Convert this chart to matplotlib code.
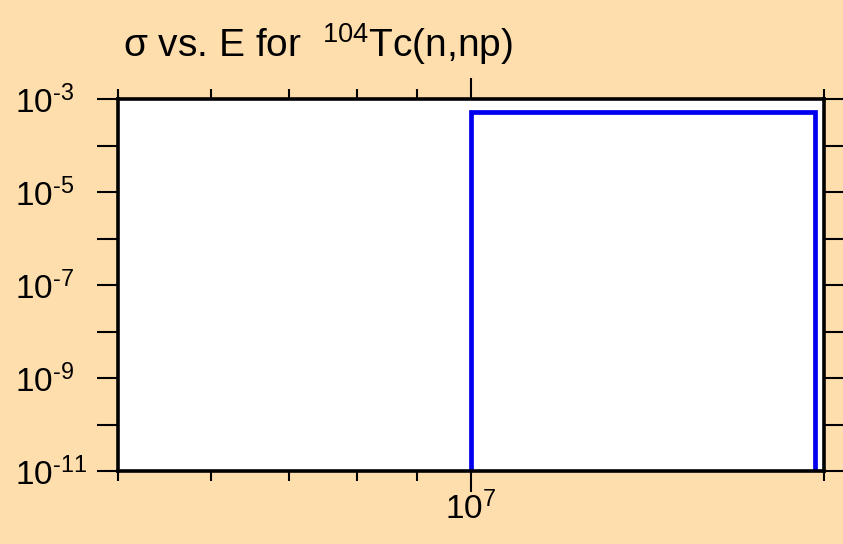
import numpy as np
import matplotlib as mpl
import matplotlib.pyplot as plt

# data: step cross section for 104Tc(n,np)
energy = [1.0e7, 1.0e7, 1.965e7, 1.965e7]
sigma  = [1e-20, 5.3e-4, 5.3e-4, 1e-20]

# ticks
x_major = [1e7]
x_major_labels = ['10$^{7}$']
x_minor = [5e6, 6e6, 7e6, 8e6, 9e6, 2e7]
y_major = [1e-11, 1e-9, 1e-7, 1e-5, 1e-3]
y_major_labels = [r'10$^{\text{-}11}$', r'10$^{\text{-}9}$', r'10$^{\text{-}7}$',
                  r'10$^{\text{-}5}$', r'10$^{\text{-}3}$']
y_minor = [1e-10, 1e-8, 1e-6, 1e-4]

# fonts
mpl.rcParams['font.family'] = ['Liberation Sans', 'DejaVu Sans']
mpl.rcParams['mathtext.fontset'] = 'custom'
mpl.rcParams['mathtext.rm'] = 'Liberation Sans'
mpl.rcParams['mathtext.it'] = 'Liberation Sans:italic'
mpl.rcParams['mathtext.bf'] = 'Liberation Sans:bold'
mpl.rcParams['mathtext.default'] = 'regular'

bg = '#ffdead'
fig = plt.figure(figsize=(8.43, 5.44), dpi=100, facecolor=bg)
ax = fig.add_axes([118 / 843, 1 - 471 / 544, (824 - 118) / 843, (471 - 99) / 544])
ax.set_facecolor('white')

ax.plot(energy, sigma, color='#0000ee', linewidth=3.4, solid_joinstyle='miter')

ax.set_xscale('log')
ax.set_yscale('log')
ax.set_xlim(5e6, 2e7)
ax.set_ylim(1e-11, 1e-3)

ax.set_xticks(x_major, x_major_labels)
ax.set_xticks(x_minor, [''] * len(x_minor), minor=True)
ax.set_yticks(y_major, y_major_labels)
ax.set_yticks(y_minor, [''] * len(y_minor), minor=True)

ax.tick_params(which='both', direction='out', top=True, right=True,
               width=1.5, color='black', labelsize=24)
ax.tick_params(axis='x', which='major', length=15, pad=0)
ax.tick_params(axis='x', which='minor', length=7.5)
ax.tick_params(axis='y', which='both', length=15, pad=59)
for lab in ax.get_yticklabels():
    lab.set_horizontalalignment('left')

for s in ax.spines.values():
    s.set_linewidth(2.6)

fig.text(123 / 843, 1 - 57 / 544, r'σ vs. E for  $^{104}$Tc(n,np)',
         fontsize=28, ha='left', va='baseline')

plt.savefig('out.png', dpi=100, facecolor=bg)
